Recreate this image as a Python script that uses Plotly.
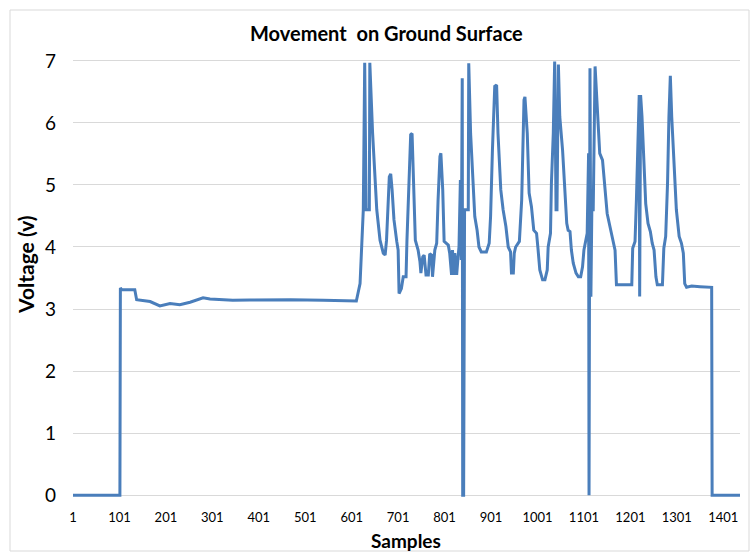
import plotly.graph_objects as go

# Key samples (sample index, voltage)
samples = [1, 102, 103, 106, 134, 138, 167, 188, 210, 231, 253, 281, 296, 317, 345, 382, 470, 540, 597, 611,
           619, 622, 626, 629, 632, 639, 640, 646, 651, 655, 662, 669, 673, 676, 682, 685, 688, 692, 698, 701,
           703, 708, 712, 718, 720, 725, 728, 731, 734, 738, 744, 748, 750, 754, 757, 761, 766, 769, 773, 775,
           780, 784, 787, 791, 793, 797, 800, 805, 809, 812, 816, 818, 821, 823, 827, 830, 832, 835, 837, 839,
           840, 842, 844, 852, 853, 857, 863, 866, 871, 875, 880, 891, 897, 900, 904, 909, 913, 916, 922, 927,
           933, 938, 943, 945, 949, 951, 954, 962, 967, 972, 974, 979, 983, 988, 993, 999, 1002, 1006, 1012, 1017,
           1022, 1024, 1029, 1031, 1035, 1038, 1041, 1043, 1046, 1049, 1055, 1060, 1064, 1067, 1071, 1074, 1078, 1084, 1089, 1094,
           1098, 1101, 1105, 1108, 1111, 1112, 1114, 1116, 1118, 1121, 1125, 1130, 1135, 1141, 1146, 1151, 1157, 1163, 1168, 1171,
           1204, 1206, 1211, 1214, 1218, 1220, 1221, 1223, 1226, 1230, 1234, 1239, 1244, 1248, 1252, 1256, 1259, 1270, 1273, 1277,
           1281, 1284, 1287, 1290, 1295, 1300, 1306, 1311, 1315, 1318, 1322, 1333, 1351, 1376, 1377, 1437]
voltage = [0, 0, 3.34, 3.31, 3.31, 3.15, 3.12, 3.05, 3.09, 3.07, 3.11, 3.18, 3.16, 3.15, 3.14, 3.145, 3.15, 3.14, 3.14, 3.13,
           3.41, 3.95, 4.6, 6.97, 4.6, 4.6, 6.97, 5.84, 5.03, 4.6, 4.11, 3.9, 3.87, 4.11, 5.13, 5.18, 4.92, 4.44, 4.09, 3.95,
           3.25, 3.33, 3.52, 3.52, 4.11, 5.03, 5.81, 5.83, 5.03, 4.11, 3.95, 3.76, 3.58, 3.84, 3.87, 3.55, 3.55, 3.89, 3.87, 3.52,
           3.95, 4.06, 4.76, 5.46, 5.51, 4.92, 4.09, 4.06, 4.03, 3.9, 3.55, 3.95, 3.55, 3.9, 3.55, 3.84, 4.0, 5.08, 3.79, 6.72,
           0, 0, 4.6, 4.6, 6.96, 5.83, 4.92, 4.49, 4.27, 4.0, 3.92, 3.92, 4.06, 4.49, 5.56, 6.59, 6.61, 5.83, 4.92, 4.6,
           4.33, 4.0, 3.92, 3.58, 3.58, 3.9, 4.0, 4.09, 4.76, 6.37, 6.42, 5.83, 4.87, 4.65, 4.27, 4.22, 3.98, 3.63, 3.47, 3.47,
           3.63, 4.0, 4.22, 5.03, 5.83, 6.99, 4.6, 4.6, 6.94, 6.1, 5.56, 4.87, 4.38, 4.27, 4.25, 3.95, 3.74, 3.58, 3.52, 3.52,
           3.68, 3.95, 4.09, 4.22, 5.51, 0, 6.88, 3.2, 4.6, 4.6, 6.91, 6.1, 5.51, 5.4, 4.92, 4.54, 4.33, 4.11, 3.95, 3.39,
           3.39, 3.98, 4.09, 4.76, 5.83, 6.45, 3.2, 6.45, 6.1, 5.4, 4.7, 4.38, 4.25, 4.06, 3.95, 3.52, 3.39, 3.39, 3.98, 4.17,
           5.03, 6.1, 6.76, 6.1, 5.3, 4.6, 4.17, 4.06, 3.9, 3.41, 3.35, 3.37, 3.36, 3.35, 0, 0]

x_ticks = [1, 101, 201, 301, 401, 501, 601, 701, 801, 901, 1001, 1101, 1201, 1301, 1401]
y_ticks = [0, 1, 2, 3, 4, 5, 6, 7]

title_text = "Movement  on Ground Surface"
x_title = "Samples"
y_title = "Voltage (v)"

FONT = "Lato, 'Liberation Sans', sans-serif"
GRID = "#d9d9d9"

# plot area geometry (pixels)
L, R, T, B = 73, 11, 59, 55
PW, PH = 751 - L - R, 552 - T - B

fig = go.Figure()
fig.add_trace(go.Scatter(
    x=samples, y=voltage, mode="lines",
    line=dict(color="#4a7ebb", width=3),
    showlegend=False, hoverinfo="x+y",
))

fig.update_layout(
    width=751, height=552,
    margin=dict(l=L, r=R, t=T, b=B),
    paper_bgcolor="white", plot_bgcolor="white",
    font=dict(family=FONT, color="#000000"),
    showlegend=False,
)
fig.update_xaxes(
    range=[1, 1437], tickmode="array", tickvals=x_ticks, ticktext=[str(t) for t in x_ticks],
    showgrid=False, zeroline=False, showline=False, automargin=False,
    ticks="", ticklabelstandoff=11, tickfont=dict(size=13, family=FONT),
)
fig.update_yaxes(
    range=[-0.03, 7.03], tickmode="array", tickvals=y_ticks,
    showgrid=True, gridcolor=GRID, gridwidth=1, zeroline=False, showline=False, automargin=False,
    ticks="", ticklabelstandoff=16, tickfont=dict(size=19, family=FONT),
)

def px_x(p):
    return (p - L) / PW

def px_y(p):
    return (552 - B - p) / PH

fig.add_annotation(text=f"<b>{title_text}</b>", xref="paper", yref="paper",
                   x=px_x(386), y=px_y(33), showarrow=False, xanchor="center", yanchor="middle",
                   font=dict(size=20, family=FONT))
fig.add_annotation(text=f"<b>{x_title}</b>", xref="paper", yref="paper",
                   x=px_x(406), y=px_y(540), showarrow=False, xanchor="center", yanchor="middle",
                   font=dict(size=19, family=FONT))
fig.add_annotation(text=f"<b>{y_title}</b>", xref="paper", yref="paper",
                   x=px_x(25), y=px_y(265), showarrow=False, xanchor="center", yanchor="middle",
                   textangle=-90, font=dict(size=21, family=FONT))

# outer chart border
fig.add_shape(type="rect", xref="paper", yref="paper",
              x0=px_x(10), x1=px_x(749), y0=px_y(551), y1=px_y(10),
              line=dict(color=GRID, width=1), fillcolor="rgba(0,0,0,0)", layer="below")

fig.write_html("out.html", config={"displayModeBar": False},
               post_script="document.body.style.margin='0px';document.body.style.overflow='hidden';")
